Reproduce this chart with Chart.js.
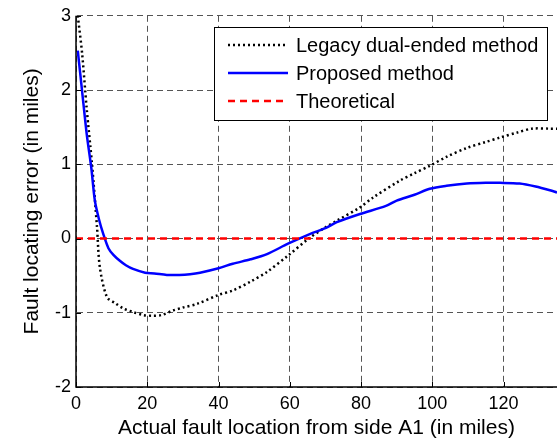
<!DOCTYPE html>
<html><head><meta charset="utf-8">
<script src="https://cdn.jsdelivr.net/npm/chart.js@4/dist/chart.umd.min.js"></script>
<style>html,body{margin:0;padding:0;background:#fff;}canvas{display:block;}</style>
</head><body>
<canvas id="c" width="557" height="443"></canvas>
<script>
const legacyX = [0.5, 1.7, 3.0, 4.5, 5.9, 6.7, 8.7, 11, 13.2, 16, 18.8, 21.6, 24, 27.2, 30, 34, 40, 44, 49, 53.6, 59.5, 65.6, 70, 73.2, 79.7, 83.3, 90.9, 95, 99.3, 104, 109.7, 115, 119, 124, 128, 133, 135];
const legacyY = [3.0, 2.5, 1.75, 1.0, 0.15, -0.39, -0.79, -0.87, -0.94, -0.99, -1.03, -1.04, -1.03, -0.97, -0.93, -0.88, -0.76, -0.70, -0.58, -0.45, -0.23, 0.01, 0.15, 0.24, 0.42, 0.55, 0.78, 0.88, 0.98, 1.10, 1.22, 1.30, 1.36, 1.43, 1.48, 1.48, 1.48];
const proposedX = [0.5, 1.7, 3.0, 4.3, 5.3, 6.5, 7.6, 9.1, 10.5, 12.3, 14, 16, 19.4, 22, 25.5, 29, 32, 34.8, 40, 44, 49, 53.6, 59.5, 65.6, 70, 73.2, 79.7, 87, 90, 95, 99.3, 104, 109.7, 115, 119, 124.5, 129, 133, 135];
const proposedY = [2.53, 1.99, 1.41, 0.95, 0.51, 0.25, 0.07, -0.13, -0.22, -0.30, -0.36, -0.41, -0.46, -0.47, -0.49, -0.49, -0.48, -0.46, -0.40, -0.34, -0.28, -0.21, -0.07, 0.06, 0.14, 0.22, 0.33, 0.44, 0.51, 0.59, 0.67, 0.71, 0.74, 0.75, 0.75, 0.74, 0.70, 0.65, 0.62];
const theoreticalX = [0, 135];
const theoreticalY = [0, 0];
const xTicks = [0, 20, 40, 60, 80, 100, 120];
const yTicks = [-2, -1, 0, 1, 2, 3];
const seriesLabels = ['Legacy dual-ended method', 'Proposed method', 'Theoretical'];

const pts = (xs, ys) => xs.map((x, i) => ({x: x, y: ys[i]}));
const FONT = 'Liberation Sans, Arial, sans-serif';

const axesPlugin = {
  id: 'solidAxes',
  afterDatasetsDraw(chart) {
    const ctx = chart.ctx, a = chart.chartArea;
    const xs = chart.scales.x, ys = chart.scales.y;
    ctx.save();
    ctx.strokeStyle = '#000';
    ctx.lineWidth = 1.5;
    ctx.setLineDash([]);
    ctx.beginPath();
    ctx.moveTo(a.left, a.top);
    ctx.lineTo(a.left, a.bottom);
    ctx.lineTo(a.right, a.bottom);
    ctx.stroke();
    ctx.lineWidth = 1;
    ctx.beginPath();
    xTicks.forEach(v => { const p = Math.round(xs.getPixelForValue(v)) + 0.5; ctx.moveTo(p, a.bottom); ctx.lineTo(p, a.bottom - 5); });
    yTicks.forEach(v => { const p = Math.round(ys.getPixelForValue(v)) + 0.5; ctx.moveTo(a.left, p); ctx.lineTo(a.left + 5, p); });
    ctx.stroke();
    ctx.restore();
  }
};

const legendPlugin = {
  id: 'boxLegend',
  afterDraw(chart) {
    const ctx = chart.ctx;
    const bx = 214.5, by = 27.5, bw = 333, bh = 93;
    ctx.save();
    ctx.fillStyle = '#fff';
    ctx.fillRect(bx, by, bw, bh);
    ctx.strokeStyle = '#000';
    ctx.lineWidth = 1;
    ctx.setLineDash([]);
    ctx.strokeRect(bx, by, bw, bh);
    ctx.font = '20px ' + FONT;
    ctx.textBaseline = 'middle';
    chart.data.datasets.forEach((ds, i) => {
      const y = 45 + i * 28;
      ctx.beginPath();
      ctx.strokeStyle = ds.borderColor;
      ctx.lineWidth = ds.borderWidth;
      ctx.setLineDash(ds.borderDash || []);
      ctx.moveTo(228, y);
      ctx.lineTo(288, y);
      ctx.stroke();
      ctx.setLineDash([]);
      ctx.fillStyle = '#000';
      ctx.fillText(ds.label, 296, y + 1);
    });
    ctx.restore();
  }
};

new Chart(document.getElementById('c'), {
  type: 'line',
  data: {
    datasets: [
      {label: seriesLabels[0], data: pts(legacyX, legacyY), borderColor: '#000000', borderWidth: 2.5, borderDash: [2, 3], pointRadius: 0, tension: 0.3, fill: false, order: 2},
      {label: seriesLabels[1], data: pts(proposedX, proposedY), borderColor: '#0000ff', borderWidth: 2.5, pointRadius: 0, tension: 0.3, fill: false, order: 1},
      {label: seriesLabels[2], data: pts(theoreticalX, theoreticalY), borderColor: '#ff0000', borderWidth: 2.5, borderDash: [7, 5], pointRadius: 0, fill: false, order: 0}
    ]
  },
  options: {
    responsive: false,
    animation: false,
    devicePixelRatio: 1,
    layout: {padding: {left: 20, right: 0, top: 15, bottom: 0}},
    plugins: {legend: {display: false}, tooltip: {enabled: false}},
    scales: {
      x: {
        type: 'linear', min: 0, max: 135,
        afterBuildTicks: (s) => { s.ticks = xTicks.map(v => ({value: v})); },
        afterFit: (s) => { s.height = 56; },
        ticks: {color: '#000', font: {family: FONT, size: 18}, padding: 6, maxRotation: 0, autoSkip: false},
        grid: {color: '#555', lineWidth: 1, drawTicks: false},
        border: {display: true, color: 'rgba(0,0,0,0)', width: 1, dash: [6, 4]},
        title: {display: true, text: 'Actual fault location from side A1 (in miles)', color: '#000', font: {family: FONT, size: 21}, padding: {top: 0, bottom: 2}}
      },
      y: {
        type: 'linear', min: -2, max: 3,
        afterBuildTicks: (s) => { s.ticks = yTicks.map(v => ({value: v})); },
        afterFit: (s) => { s.width = 56; },
        ticks: {color: '#000', font: {family: FONT, size: 18}, padding: 5, autoSkip: false},
        grid: {color: '#555', lineWidth: 1, drawTicks: false},
        border: {display: true, color: 'rgba(0,0,0,0)', width: 1, dash: [6, 4]},
        title: {display: true, text: 'Fault locating error (in miles)', color: '#000', font: {family: FONT, size: 21}, padding: {top: 0, bottom: 0}}
      }
    }
  },
  plugins: [axesPlugin, legendPlugin]
});
</script>
</body></html>
